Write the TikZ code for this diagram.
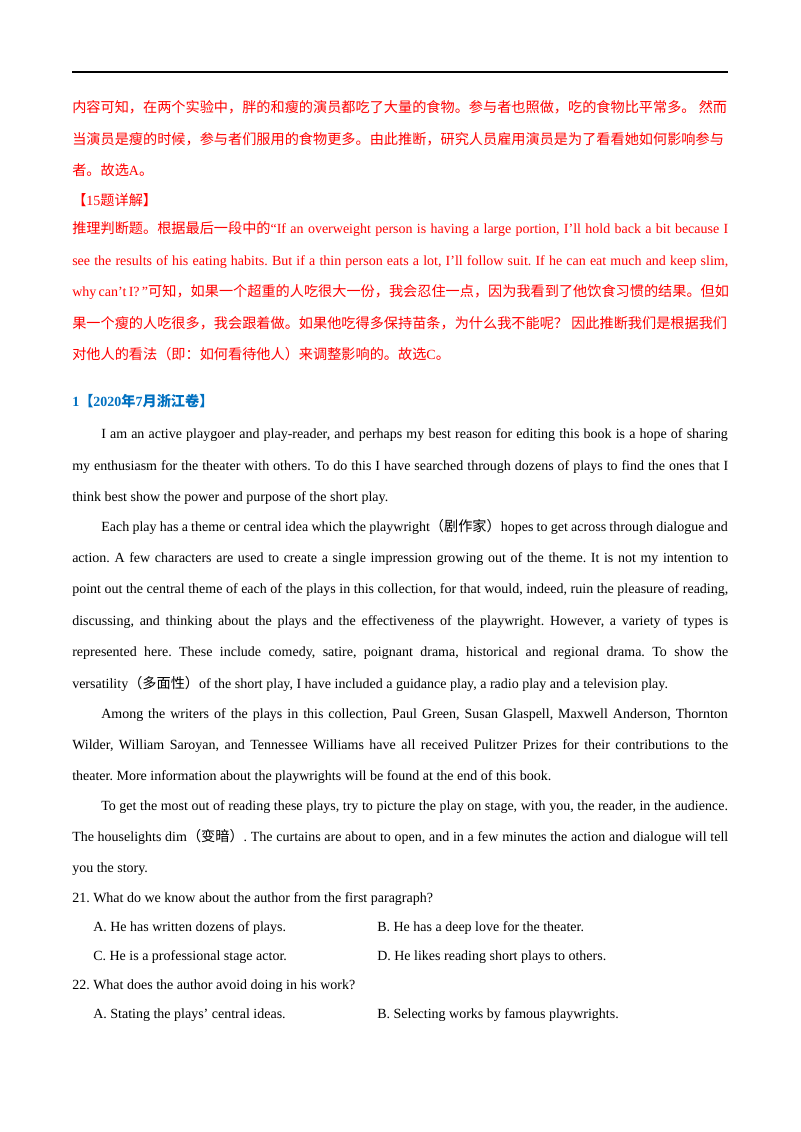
\documentclass[tikz,border=0pt]{standalone}
\usepackage{fontspec}
\setmainfont{Liberation Serif}
\newfontfamily\cjk[Scale=1.012]{Noto Sans CJK SC}
\newcommand\C[1]{{\cjk #1}}
\newcommand\F[1]{\makebox[492pt][s]{#1}}
\newcommand\TL[3]{\node[txt] at (#1,#2+5) {#3};}
\definecolor{hblue}{RGB}{0,112,192}
\frenchspacing
\begin{document}
\begin{tikzpicture}[x=0.75pt,y=-0.75pt,txt/.style={anchor=base west,inner sep=0,font=\fontsize{10.5pt}{12pt}\selectfont\frenchspacing}]
\useasboundingbox (0,0) rectangle (800,1132);
\draw[line width=0.9pt] (72,72) -- (728,72);
\begin{scope}[every node/.append style={text=red}]
\TL{72}{107}{\C{内容可知，在两个实验中，胖的和瘦的演员都吃了大量的食物。参与者也照做，吃的食物比平常多。 然而}}
\TL{72}{139}{\C{当演员是瘦的时候，参与者们服用的食物更多。由此推断，研究人员雇用演员是为了看看她如何影响参与}}
\TL{72}{170}{\C{者。故选}A\C{。}}
\TL{72}{200}{\C{【}15\C{题详解】}}
\TL{72}{228}{\F{\C{推理判断题。根据最后一段中的}“If an overweight person is having a large portion, I’ll hold back a bit because I}}
\TL{72}{260}{\F{see the results of his eating habits. But if a thin person eats a lot, I’ll follow suit. If he can eat much and keep slim,}}
\TL{72}{291}{\F{why can’t I? ”\C{可知，如果一个超重的人吃很大一份，我会忍住一点，因为我看到了他饮食习惯的结果。但如}}}
\TL{72}{323}{\C{果一个瘦的人吃很多，我会跟着做。如果他吃得多保持苗条，为什么我不能呢？ 因此推断我们是根据我们}}
\TL{72}{354}{\C{对他人的看法（即：如何看待他人）来调整影响的。故选}C\C{。}}
\end{scope}
\TL{72}{401}{\textcolor{hblue}{\bfseries 1\C{【}2020\C{年}7\C{月浙江卷】}}}
\TL{101}{433}{\makebox[470pt][s]{I am an active playgoer and play-reader, and perhaps my best reason for editing this book is a hope of sharing}}
\TL{72}{465}{\F{my enthusiasm for the theater with others. To do this I have searched through dozens of plays to find the ones that I}}
\TL{72}{496}{think best show the power and purpose of the short play.}
\TL{101}{526}{\makebox[470pt][s]{Each play has a theme or central idea which the playwright\C{（剧作家）}hopes to get across through dialogue and}}
\TL{72}{557}{\F{action. A few characters are used to create a single impression growing out of the theme. It is not my intention to}}
\TL{72}{588}{\F{point out the central theme of each of the plays in this collection, for that would, indeed, ruin the pleasure of reading,}}
\TL{72}{620}{\F{discussing, and thinking about the plays and the effectiveness of the playwright. However, a variety of types is}}
\TL{72}{651}{\F{represented here. These include comedy, satire, poignant drama, historical and regional drama. To show the}}
\TL{72}{683}{versatility\C{（多面性）}of the short play, I have included a guidance play, a radio play and a television play.}
\TL{101}{713}{\makebox[470pt][s]{Among the writers of the plays in this collection, Paul Green, Susan Glaspell, Maxwell Anderson, Thornton}}
\TL{72}{744}{\F{Wilder, William Saroyan, and Tennessee Williams have all received Pulitzer Prizes for their contributions to the}}
\TL{72}{775}{theater. More information about the playwrights will be found at the end of this book.}
\TL{101}{805}{\makebox[470pt][s]{To get the most out of reading these plays, try to picture the play on stage, with you, the reader, in the audience.}}
\TL{72}{836}{\F{The houselights dim\C{（变暗）}. The curtains are about to open, and in a few minutes the action and dialogue will tell}}
\TL{72}{867}{you the story.}
\TL{72}{897}{21. What do we know about the author from the first paragraph?}
\TL{93}{926}{A. He has written dozens of plays.}
\TL{377}{926}{B. He has a deep love for the theater.}
\TL{93}{955}{C. He is a professional stage actor.}
\TL{377}{955}{D. He likes reading short plays to others.}
\TL{72}{984}{22. What does the author avoid doing in his work?}
\TL{93}{1013}{A. Stating the plays’ central ideas.}
\TL{377}{1013}{B. Selecting works by famous playwrights.}
\end{tikzpicture}
\end{document}
